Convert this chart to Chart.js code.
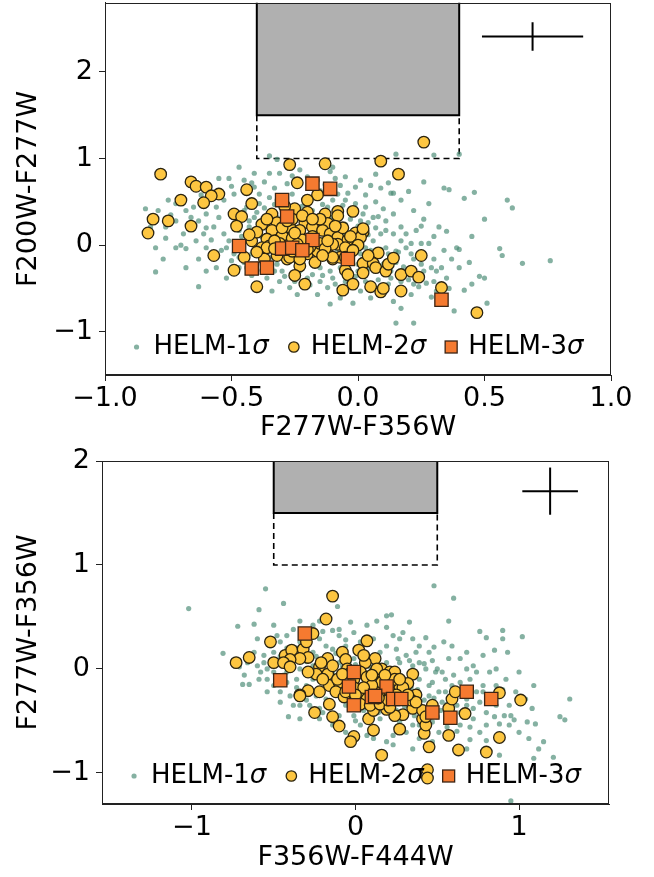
<!DOCTYPE html>
<html>
<head>
<meta charset="utf-8">
<script src="https://cdn.jsdelivr.net/npm/chart.js@4"></script>
<style>
  body { margin: 0; background: #fff; }
  canvas { position: absolute; left: 0; top: 0; }
  #top { top: -8px; }
</style>
</head>
<body>
<canvas id="top" width="654" height="877"></canvas>
<canvas id="bottom" width="654" height="877"></canvas>
<script>
const seriesLabels = ["HELM-1σ", "HELM-2σ", "HELM-3σ"]

// top panel: F277W-F356W vs F200W-F277W
const topXTicks = [-1, -0.5, 0, 0.5, 1]
const topYTicks = [-1, 0, 1, 2]
const topBoxX = [-0.4, 0.4]
const topBoxY = [1.0, 1.5]
const topErr = [0.69, 2.41, 0.2, 0.165]

const top3 = [[-0.18,0.71],[-0.11,0.65],[-0.3,0.52],[-0.28,0.33],[-0.18,0.06],[-0.47,-0.01],[-0.3,-0.04],[-0.26,-0.03],[-0.22,-0.06],[-0.04,-0.16],[-0.42,-0.27],[-0.36,-0.26],[0.33,-0.63]]

const top2 = [[0.26,1.19],[-0.27,0.93],[-0.13,0.94],[0.09,0.97],[0.16,0.82],[-0.78,0.82],[-0.66,0.73],[-0.64,0.68],[-0.6,0.67],[-0.55,0.59],[-0.58,0.57],[-0.44,0.64],[-0.7,0.52],[-0.61,0.49],[-0.42,0.48],[-0.24,0.72],[-0.16,0.58],[-0.2,0.52],[-0.81,0.3],[-0.75,0.28],[-0.66,0.22],[-0.83,0.14],[-0.57,-0.12],[-0.49,0.36],[-0.46,0.33],[-0.48,0.22],[-0.38,0.24],[-0.34,0.36],[-0.25,0.42],[-0.2,0.38],[-0.13,0.36],[-0.08,0.39],[-0.08,0.34],[-0.02,0.39],[-0.21,0.26],[-0.12,0.25],[-0.32,0.26],[-0.23,0.17],[-0.18,0.21],[-0.14,0.17],[-0.11,0.13],[-0.34,0.17],[-0.3,0.11],[-0.36,0.07],[-0.26,0.08],[-0.08,0.09],[-0.04,0.06],[-0.01,0.14],[0.02,0.15],[-0.08,0.01],[-0.38,-0.03],[-0.35,-0.01],[-0.32,-0.07],[-0.28,-0.1],[-0.24,-0.14],[-0.2,-0.1],[-0.16,-0.07],[-0.12,-0.1],[-0.1,-0.16],[-0.07,-0.14],[-0.17,-0.2],[-0.23,-0.24],[-0.28,-0.16],[-0.37,-0.16],[-0.45,-0.14],[-0.49,-0.29],[-0.4,-0.48],[-0.25,-0.35],[-0.21,-0.45],[-0.06,-0.52],[-0.05,-0.29],[-0.04,-0.34],[-0.02,-0.45],[0.08,-0.09],[0.02,-0.21],[0.06,-0.21],[0.07,-0.26],[0.11,-0.3],[0.12,-0.22],[0.14,-0.15],[0.02,-0.32],[0.05,-0.48],[0.09,-0.54],[0.1,-0.5],[0.17,-0.53],[0.17,-0.34],[0.21,-0.3],[0.24,-0.37],[0.25,-0.12],[0.33,-0.49],[0.47,-0.78],[-0.27,0.21],[-0.36,-0.03],[-0.32,-0.12],[-0.27,-0.14],[-0.23,-0.16],[-0.1,0.01],[-0.05,-0.03],[-0.1,-0.14],[-0.05,-0.14],[0.01,0.09],[0.02,0.19],[-0.3,0.2],[-0.22,0.06],[-0.15,0.02],[-0.19,-0.02],[-0.31,0.02],[-0.26,0.3],[-0.15,0.3],[-0.24,0.01],[-0.13,-0.04],
  [-0.42,0.05],[-0.4,0.15],[-0.33,0.05],[-0.28,0.28],[-0.22,0.34],[-0.18,0.3],[-0.12,0.05],[-0.06,0.2],[-0.03,0.1],[-0.2,-0.05],[-0.26,-0.07],[-0.14,-0.12],[-0.18,0.1],[-0.25,0.14],[-0.33,-0.04],[-0.4,-0.08],[-0.43,0.12],[0.0,0.0],[-0.02,-0.06],[0.04,-0.12],[-0.09,0.22],[-0.36,0.3],[-0.29,0.45]]

const top1 = [[0.59,0.52],[0.61,0.43],[0.46,0.61],[0.42,0.54],[0.34,0.66],[0.36,0.64],[0.26,0.73],[0.3,1.04],[0.4,1.05],[0.15,1.05],[0.28,0.48],[0.25,0.22],[0.32,0.21],[0.76,-0.18],[0.65,-0.21],[0.56,-0.04],[0.57,-0.12],[0.48,-0.36],[0.5,-0.38],[0.51,-0.67],[0.38,-0.76],[0.4,-0.26],[0.39,-0.03],[0.4,-0.05],[0.34,-0.06],[0.42,-0.52],[0.31,-0.53],[0.29,-0.6],[0.21,-0.57],[0.22,-0.9],[0.15,-0.9],[0.17,-0.73],[0.14,-0.65],[0.22,-0.45],[0.25,0.02],[0.28,0.02],[0.21,0.02],[0.21,-0.1],[-0.02,-0.67],[-0.11,-0.68],[-0.34,-0.53],[-0.63,-0.48],[-0.8,-0.31],[-0.77,-0.16],[-0.68,-0.04],[-0.63,-0.16],[-0.76,0.08],[-0.84,0.42],[-0.79,0.4],[-0.75,0.52],[-0.72,0.48],[-0.65,0.44],[-0.55,0.77],[-0.51,0.77],[-0.47,0.9],[-0.35,1.03],[-0.32,0.99],[-0.35,0.83],[-0.37,0.73],[-0.31,0.83],[-0.26,0.8],[-0.23,0.87],[-0.11,0.85],[-0.1,0.9],[-0.07,0.69],[-0.04,0.6],[-0.01,0.67],[0.03,0.58],[0.07,0.82],[0.09,0.66],[0.13,0.6],[0.14,0.6],[0.07,0.5],[0.1,0.42],[0.08,0.33],[0.11,0.28],[0.14,0.13],[0.11,0.17],[0.06,0.05],[0.11,-0.03],[0.17,0.05],[0.04,0.26],[0.02,0.36],[-0.01,0.48],[-0.05,0.52],[-0.08,0.59],[-0.15,0.63],[-0.39,0.59],[-0.41,0.67],[-0.49,0.59],[-0.53,0.52],[-0.56,0.44],[-0.6,0.36],[-0.63,0.28],[-0.57,0.21],[-0.53,0.13],[-0.51,0.05],[-0.55,0.32],[-0.61,0.13],[-0.69,0.13],[-0.72,0.28],[-0.52,-0.03],[-0.44,0.05],[-0.43,0.21],[-0.41,0.32],[-0.4,0.13],[-0.42,-0.1],[-0.47,-0.26],[-0.36,-0.38],[-0.31,-0.42],[-0.27,-0.49],[-0.2,-0.38],[-0.15,-0.42],[-0.1,-0.38],[-0.12,-0.49],[-0.16,-0.57],[0.01,-0.53],[0.05,-0.61],[0.13,-0.38],[0.17,-0.42],[0.29,-0.26],[0.31,-0.3],[0.35,-0.38],[0.3,-0.16],[0.25,-0.22],[0.19,-0.03],[0.15,-0.07],[-0.02,-0.03],[0.01,-0.1],[0.03,-0.03],[0.06,-0.14],[0.0,-0.22],[-0.04,-0.22],[-0.07,-0.26],[-0.11,-0.3],[-0.15,-0.26],[-0.18,-0.34],[-0.23,-0.3],[-0.3,-0.3],[-0.32,-0.22],[-0.34,-0.14],[-0.4,-0.22],[-0.44,-0.26],[-0.47,-0.14],[-0.49,-0.1],[-0.36,-0.1],[-0.28,0.01],[-0.22,0.01],[-0.15,0.01],[-0.11,-0.03],[-0.05,-0.1],[-0.23,0.32],[-0.28,0.44],[-0.32,0.52],[-0.26,0.59],[-0.19,0.52],[-0.12,0.44],[-0.1,0.32],[-0.05,0.24],[-0.02,0.17],[-0.06,0.13],[-0.18,0.13],[-0.28,0.21],[-0.36,0.32],[-0.39,0.48],[-0.35,0.55],[-0.44,0.44],[-0.47,0.17],[-0.28,0.71],[-0.2,0.79],[-0.16,0.75],[-0.05,0.79],[0.01,0.75],[0.03,0.44],[0.06,0.32],[0.01,0.28],[-0.1,0.21],[-0.02,0.05],[0.09,0.13],[0.14,0.36],[0.17,0.21],[0.19,0.13],[0.23,0.17],[0.17,0.52],[-0.28,0.9],[-0.41,0.83],[-0.45,0.75],[-0.59,0.52],[-0.66,0.32],[-0.76,0.21],[-0.82,0.21],[-0.8,-0.03],[-0.72,-0.03],[-0.6,-0.03],[-0.56,-0.26],[-0.52,-0.38],[-0.6,-0.3],[-0.68,-0.26],[-0.24,-0.57],[-0.07,-0.61],
  [-0.45,0.4],[-0.43,0.28],[-0.4,0.38],[-0.37,0.43],[-0.33,0.47],[-0.3,0.4],[-0.27,0.36],[-0.22,0.45],[-0.18,0.4],[-0.14,0.47],[-0.1,0.52],[-0.06,0.46],[-0.03,0.3],[0.0,0.22],[0.04,0.12],[0.07,0.2],[0.09,-0.05],[0.05,-0.06],[0.12,-0.1],[0.15,-0.2],[0.18,-0.25],[0.2,-0.4],[0.24,-0.48],[0.27,-0.44],[0.12,-0.45],[0.08,-0.4],[0.03,-0.42],[-0.01,-0.36],[-0.05,-0.42],[-0.09,-0.45],[-0.14,-0.35],[-0.19,-0.46],[-0.25,-0.42],[-0.29,-0.36],[-0.33,-0.3],[-0.38,-0.29],[-0.42,-0.35],[-0.45,-0.2],[-0.5,-0.18],[-0.54,-0.06],[-0.58,0.06],[-0.48,0.0],[-0.46,0.1],[-0.38,0.1],[-0.35,0.2],[-0.32,0.32],[-0.2,0.3],[-0.16,0.22],[-0.12,0.08],[-0.08,-0.06],[-0.03,-0.18],[0.0,-0.3],[0.04,-0.28],[0.1,-0.22],[0.13,-0.3],[0.16,-0.08],[0.22,-0.16],[0.26,-0.3],[0.3,-0.42],[0.33,-0.26],[0.37,-0.16],[0.44,-0.2],[0.45,-0.45],[0.36,-0.5],[-0.6,0.2],[-0.64,0.05],[-0.7,0.0],[-0.74,0.35],[-0.68,0.4],[-0.62,0.58],[-0.5,0.68],[-0.42,0.72],[-0.33,0.66],[-0.13,0.7],[-0.09,0.77],[0.05,0.69],[0.12,0.72],[0.2,0.62],[0.22,0.4],[0.26,0.3],[0.3,0.1],[0.35,0.16],[0.45,0.1],[0.5,0.3]]

// bottom panel: F356W-F444W vs F277W-F356W
const botXTicks = [-1, 0, 1]
const botYTicks = [-1, 0, 1, 2]
const botBoxX = [-0.5, 0.5]
const botBoxY = [1.0, 1.5]
const botErr = [1.19, 1.71, 0.17, 0.227]

const bot3 = [[-0.31,0.34],[-0.46,-0.11],[-0.01,-0.03],[-0.04,-0.17],[0.19,-0.17],[0.1,-0.27],[0.12,-0.26],[0.23,-0.29],[0.28,-0.29],[-0.01,-0.35],[0.47,-0.42],[0.58,-0.47],[0.68,-0.22],[0.83,-0.29]]

const bot2 = [[-0.14,0.7],[-0.18,0.48],[-0.52,0.26],[-0.73,0.06],[-0.65,0.11],[-0.5,0.06],[-0.43,0.13],[-0.39,0.18],[-0.32,0.19],[-0.29,0.11],[-0.34,0.1],[-0.4,0.09],[-0.44,0.06],[-0.4,0.02],[-0.3,0.26],[-0.26,0.34],[0.07,0.27],[0.02,0.18],[-0.08,0.16],[-0.06,0.09],[-0.17,0.1],[-0.22,0.02],[-0.24,-0.05],[-0.17,-0.05],[-0.16,-0.16],[-0.1,-0.13],[-0.12,-0.22],[-0.07,-0.27],[-0.22,-0.22],[-0.29,-0.21],[-0.34,-0.25],[-0.16,-0.34],[-0.25,-0.42],[-0.14,-0.46],[-0.1,-0.55],[-0.01,-0.65],[-0.03,-0.7],[0.11,-0.59],[0.08,-0.48],[0.12,0.1],[0.06,0.06],[0.16,0.0],[0.21,-0.03],[0.24,-0.03],[0.35,-0.05],[0.32,-0.14],[0.27,-0.19],[0.37,-0.25],[0.35,-0.38],[0.29,-0.44],[0.24,-0.45],[0.19,-0.39],[0.11,-0.4],[0.27,-0.58],[0.42,-0.62],[0.41,-0.48],[0.43,-0.54],[0.45,-0.75],[0.57,-0.64],[0.63,-0.78],[0.8,-0.8],[0.88,-0.66],[0.67,-0.43],[0.57,-0.38],[0.59,-0.29],[0.61,-0.22],[0.88,-0.23],[1.01,-0.3],[0.16,-0.83],[0.44,-0.97],[0.44,-1.05],[0.03,-0.03],[0.07,-0.08],[0.12,-0.03],[-0.01,-0.1],[0.03,-0.22],[0.07,-0.29],[0.15,-0.22],[0.21,-0.22],[0.29,-0.18],[0.24,-0.1],[0.16,-0.13],[0.1,-0.16],[-0.01,-0.18],[-0.06,-0.22],[0.03,-0.34],[0.09,-0.35],[0.15,-0.34],[0.21,-0.37],[0.34,-0.3],[0.41,-0.4],[0.47,-0.35],[-0.11,-0.1],[-0.14,0.03],[-0.05,0.0],[0.13,0.0],[0.05,0.13],[-0.34,-0.26],[-0.29,-0.03],[-0.21,0.06],[0.37,-0.32],[0.43,-0.46],
  [0.05,-0.18],[0.18,-0.06],[0.25,-0.25],[0.1,-0.06],[-0.03,-0.04],[0.2,-0.3],[0.32,-0.25],[0.14,-0.28],[-0.08,-0.05],[0.27,-0.1],[-0.2,-0.1],[0.0,-0.25]]

const bot1 = [[-1.02,0.58],[-0.55,0.77],[0.48,0.8],[0.6,0.68],[-0.11,0.6],[-0.44,0.63],[-0.59,0.57],[-0.62,0.43],[-0.72,0.41],[-0.81,0.15],[-0.71,0.02],[-0.68,-0.06],[-0.69,-0.15],[-0.65,-0.15],[-0.59,-0.1],[-0.41,-0.46],[-0.38,0.38],[-0.34,0.46],[-0.42,0.32],[-0.22,0.29],[-0.14,0.37],[-0.1,0.38],[-0.03,0.45],[-0.01,0.35],[0.13,0.46],[0.19,0.51],[0.22,0.52],[0.33,0.45],[0.19,0.4],[0.29,0.35],[0.35,0.29],[0.43,0.3],[0.48,0.21],[0.54,0.26],[0.57,0.46],[0.76,0.36],[0.8,0.3],[0.9,0.37],[0.9,0.29],[1.02,0.31],[0.93,0.16],[0.85,0.18],[0.78,0.13],[0.86,0.0],[1.0,-0.03],[1.09,-0.16],[1.31,-0.29],[1.25,-0.46],[1.28,-0.49],[1.15,-0.7],[1.12,-0.77],[1.21,-0.85],[1.09,-0.86],[0.95,-1.27],[1.05,-0.51],[1.1,-0.53],[0.97,-0.49],[0.91,-0.45],[0.88,-0.53],[0.8,-0.54],[0.76,-0.61],[0.8,-0.69],[0.85,-0.46],[0.72,-0.38],[0.76,-0.32],[0.68,-0.29],[0.64,-0.13],[0.55,-0.1],[0.49,-0.03],[0.43,0.0],[0.39,0.06],[0.47,0.08],[0.53,-0.03],[0.59,-0.16],[0.51,-0.22],[0.53,-0.32],[0.64,-0.54],[0.51,-0.61],[0.47,-0.7],[0.39,-0.67],[0.31,-0.61],[0.23,-0.64],[0.19,-0.7],[0.07,-0.64],[0.03,-0.54],[-0.06,-0.61],[-0.1,-0.45],[-0.22,-0.48],[-0.28,-0.35],[-0.34,-0.35],[-0.4,-0.26],[-0.46,-0.22],[-0.5,-0.16],[-0.54,-0.1],[-0.58,-0.03],[-0.6,0.03],[-0.54,0.0],[-0.5,-0.03],[-0.42,-0.03],[-0.36,-0.1],[-0.34,0.0],[-0.26,0.03],[-0.26,-0.1],[-0.3,-0.16],[-0.2,-0.13],[-0.18,-0.29],[-0.14,-0.35],[-0.22,-0.38],[-0.01,-0.45],[0.15,-0.48],[0.27,-0.51],[0.39,-0.54],[0.47,-0.51],[0.57,-0.48],[0.68,-0.35],[0.74,-0.22],[0.78,-0.16],[0.74,-0.03],[0.68,0.0],[0.64,0.1],[0.57,0.1],[0.68,0.16],[0.59,0.22],[0.45,0.16],[0.37,0.16],[0.31,0.13],[0.25,0.19],[0.19,0.22],[0.11,0.29],[0.23,0.32],[0.03,0.26],[-0.06,0.22],[-0.14,0.19],[-0.18,0.22],[-0.26,0.16],[-0.34,0.26],[-0.46,0.26],[-0.5,0.16],[-0.56,0.13],[-0.62,0.16],[-0.66,0.06],[-0.6,0.29],[-0.5,0.42],[-0.26,0.42],[-0.22,0.46],[-0.1,0.32],[0.07,0.42],[0.27,0.29],[0.39,0.22],[0.35,0.03],[0.27,0.06],[0.19,0.06],[0.39,-0.1],[0.45,-0.16],[0.45,-0.26],[0.47,-0.13],[0.55,-0.22],[0.62,-0.35],[0.64,-0.42],[0.72,-0.48],[0.8,-0.42],[0.86,-0.35],[0.94,-0.35],[0.98,-0.22],[0.86,-0.16],[0.92,-0.1],[1.04,-0.29],[1.08,-0.38],[0.88,-0.83],[0.68,-0.77],[0.35,-0.77],[0.23,-0.73],[0.11,-0.67],[0.35,-0.54],[-0.14,-0.54],[-0.34,-0.48],[-0.14,-0.03],[-0.06,-0.06],[0.07,-0.16],[0.19,-0.13],[0.31,-0.22],[0.23,-0.29],[0.11,-0.26],[-0.01,-0.26],[-0.06,-0.35],[0.03,0.13],[0.11,0.13],[-0.01,0.1],[-0.1,0.06],[-0.18,-0.03],[-0.42,-0.13],[-0.54,-0.22],[-0.46,-0.32],[-0.38,-0.35],[0.72,0.03],[0.82,-0.03],[0.82,-0.26],[0.94,-0.54],[1.0,-0.61],[1.06,-0.67],
  [-0.5,0.08],[-0.46,0.12],[-0.42,0.05],[-0.38,0.12],[-0.36,0.2],[-0.3,0.07],[-0.28,-0.06],[-0.24,0.12],[-0.2,0.05],[-0.16,0.12],[-0.12,0.15],[-0.08,0.02],[-0.04,0.06],[0.0,0.04],[0.05,-0.02],[0.09,0.02],[0.14,-0.06],[0.18,-0.1],[0.22,-0.06],[0.26,-0.14],[0.3,-0.1],[0.34,-0.18],[0.38,-0.2],[0.42,-0.3],[0.48,-0.28],[0.52,-0.4],[0.56,-0.34],[0.6,-0.42],[0.66,-0.46],[0.7,-0.56],[0.62,-0.6],[0.56,-0.56],[0.44,-0.6],[0.36,-0.45],[0.3,-0.36],[0.18,-0.3],[0.14,-0.42],[0.05,-0.4],[-0.04,-0.3],[-0.08,-0.2],[-0.18,-0.18],[-0.24,-0.26],[-0.3,-0.3],[-0.36,-0.18],[-0.44,-0.06],[-0.48,-0.1],[-0.56,0.06],[-0.52,0.22],[-0.42,0.2],[-0.3,0.35],[-0.2,0.36],[-0.06,0.28],[0.0,0.2],[0.15,0.16],[0.26,0.1],[0.33,0.08],[0.42,0.05],[0.5,0.0],[0.6,-0.06],[0.7,-0.1],[0.78,-0.22],[0.84,-0.28],[0.9,-0.2],[0.95,-0.45],[0.7,-0.68],[0.5,-0.46],[0.25,-0.4],[0.0,-0.5],[-0.2,-0.42],[-0.48,0.32]]

Chart.defaults.font.family = "DejaVu Sans"
Chart.defaults.color = "#000"

const minus = s => String(s).replace("-", "\u2212")

const framePlugin = {
  id: "frame",
  afterDatasetsDraw(chart) {
    const {ctx, chartArea: a} = chart
    ctx.save()
    ctx.strokeStyle = "#222"
    ctx.lineWidth = 1
    ctx.strokeRect(Math.round(a.left) + 0.5, Math.round(a.top) + 0.5, Math.round(a.width) - 1, Math.round(a.height) - 1)
    ctx.restore()
  }
}

// legend drawn inside the axes, centred at the bottom
const legendPlugin = {
  id: "innerLegend",
  afterDraw(chart) {
    const {ctx, chartArea: a} = chart
    const font = '26px "DejaVu Sans"'
    const ifont = 'italic 26px "DejaVu Sans"'
    const items = [0, 1, 2].map(i => chart.data.datasets[i])
    ctx.save()
    const widths = items.map(d => {
      ctx.font = font
      const w1 = ctx.measureText(d.label.slice(0, -1)).width
      ctx.font = ifont
      return w1 + ctx.measureText(d.label.slice(-1)).width
    })
    const total = widths.reduce((s, w) => s + w + 17, 0) + 25 * (items.length - 1) + 6
    let x = (a.left + a.right) / 2 - total / 2 + 5
    const y = a.bottom - 28
    ctx.textBaseline = "middle"
    items.forEach((d, i) => {
      ctx.fillStyle = d.backgroundColor
      ctx.strokeStyle = d.borderColor || d.backgroundColor
      ctx.lineWidth = d.borderWidth
      if (d.pointStyle === "rect") {
        ctx.fillRect(x - 6, y - 6, 12, 12)
        ctx.strokeRect(x - 6, y - 6, 12, 12)
      } else {
        const r = d.pointRadius > 4 ? 5.2 : 2.6
        ctx.beginPath()
        ctx.arc(x, y, r, 0, Math.PI * 2)
        ctx.fill()
        if (d.borderWidth) ctx.stroke()
      }
      ctx.fillStyle = "#000"
      ctx.font = font
      const head = d.label.slice(0, -1)
      ctx.fillText(head, x + 17, y)
      const hw = ctx.measureText(head).width
      ctx.font = ifont
      ctx.fillText(d.label.slice(-1), x + 17 + hw, y)
      x += 17 + widths[i] + 25
    })
    ctx.restore()
  }
}

function panel(id, p) {
  const pts = arr => arr.map(([x, y]) => ({x, y}))
  const [bx0, bx1] = p.boxX
  const [by0, by1] = p.boxY
  const [ex, ey, dx, dy] = p.err
  const lineSet = (data, extra) => Object.assign({
    type: "line", data, borderColor: "#000", borderWidth: 2,
    pointRadius: 0, fill: false, tension: 0
  }, extra)
  const tickFont = {size: 27}

  new Chart(document.getElementById(id), {
    type: "scatter",
    data: {
      datasets: [
        {label: seriesLabels[0], data: pts(p.s1), pointRadius: 2.6, backgroundColor: "rgba(75,140,118,0.68)", borderWidth: 0, order: 3},
        {label: seriesLabels[1], data: pts(p.s2), pointStyle: "circle", pointRadius: 5.8, backgroundColor: "#fdc641", borderColor: "#2b2410", borderWidth: 1.3, order: 2},
        {label: seriesLabels[2], data: pts(p.s3), pointStyle: "rect", pointRadius: 9.4, backgroundColor: "#f57a30", borderColor: "#3b2414", borderWidth: 1.3, order: 1},
        lineSet([{x: bx0, y: by1}, {x: bx1, y: by1}], {fill: "end", backgroundColor: "#b0b0b0", borderWidth: 0, order: 6}),
        lineSet([{x: bx0, y: p.yMax + 1}, {x: bx0, y: by1}, {x: bx1, y: by1}, {x: bx1, y: p.yMax + 1}], {order: 5}),
        lineSet([{x: bx0, y: by1}, {x: bx0, y: by0}, {x: bx1, y: by0}, {x: bx1, y: by1}], {borderWidth: 1.6, borderDash: [6, 4], order: 5}),
        lineSet([{x: ex - dx, y: ey}, {x: ex + dx, y: ey}], {order: 5}),
        lineSet([{x: ex, y: ey - dy}, {x: ex, y: ey + dy}], {order: 5})
      ]
    },
    options: {
      responsive: false,
      animation: false,
      events: [],
      layout: {padding: p.pad},
      plugins: {legend: {display: false}, tooltip: {enabled: false}},
      scales: {
        x: {
          type: "linear", min: p.xMin, max: p.xMax,
          afterBuildTicks: s => { s.ticks = p.xTicks.map(v => ({value: v})) },
          afterFit: s => { s.height = p.xAxisH; s.paddingLeft = 0; s.paddingRight = 0 },
          grid: {drawOnChartArea: false, tickLength: 6, color: "#222"},
          border: {color: "#222", width: 1},
          ticks: {font: tickFont, padding: 2, autoSkip: false, maxRotation: 0, callback: v => minus(p.xFmt(v))},
          title: {display: true, text: p.xTitle, font: {size: 27}, padding: {top: 0, bottom: p.xTitlePad}}
        },
        y: {
          type: "linear", min: p.yMin, max: p.yMax,
          afterBuildTicks: s => { s.ticks = p.yTicks.map(v => ({value: v})) },
          afterFit: s => { s.width = p.yAxisW; s.paddingTop = 0; s.paddingBottom = 0 },
          grid: {drawOnChartArea: false, tickLength: 6, color: "#222"},
          border: {color: "#222", width: 1},
          ticks: {font: tickFont, padding: 6, autoSkip: false, callback: v => minus(v)},
          title: {display: true, text: p.yTitle, font: {size: 27}, padding: {top: 13, bottom: 0}}
        }
      }
    },
    plugins: [framePlugin, legendPlugin]
  })
}

// the top canvas sits 8px higher (see CSS), so its plot runs from 3 to 375 on the page
panel("top", {
  s1: top1, s2: top2, s3: top3,
  boxX: topBoxX, boxY: topBoxY, err: topErr,
  xMin: -1, xMax: 1, yMin: -1.5, yMax: 2.8,
  xTicks: topXTicks, yTicks: topYTicks, xFmt: v => v.toFixed(1),
  xTitle: "F277W-F356W", yTitle: "F200W-F277W",
  pad: {top: 3, right: 43, bottom: 419, left: 0},
  xAxisH: 75, yAxisW: 105, xTitlePad: 6
})

panel("bottom", {
  s1: bot1, s2: bot2, s3: bot3,
  boxX: botBoxX, boxY: botBoxY, err: botErr,
  xMin: -1.55, xMax: 1.55, yMin: -1.3, yMax: 2,
  xTicks: botXTicks, yTicks: botYTicks, xFmt: v => String(v),
  xTitle: "F356W-F444W", yTitle: "F277W-F356W",
  pad: {top: 461, right: 45, bottom: 0, left: 0},
  xAxisH: 73, yAxisW: 102, xTitlePad: 3
})
</script>
</body>
</html>
